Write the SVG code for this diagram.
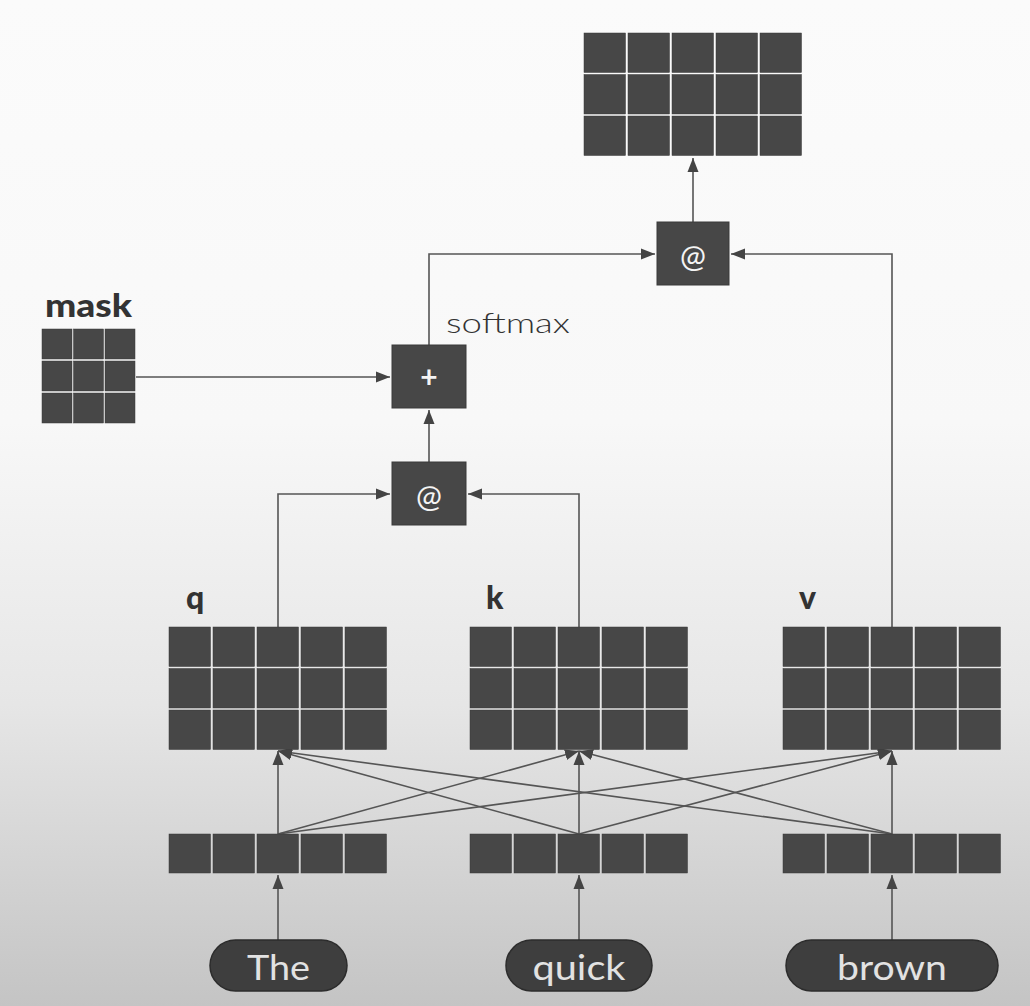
<svg xmlns="http://www.w3.org/2000/svg" xmlns:xlink="http://www.w3.org/1999/xlink" width="1030" height="1006" viewBox="0 0 1030 1006">
<defs>
<linearGradient id="bg" x1="0" y1="0" x2="0" y2="1">
<stop offset="0" stop-color="#fbfbfb"/>
<stop offset="0.42" stop-color="#f8f8f8"/>
<stop offset="0.7" stop-color="#e6e6e6"/>
<stop offset="1" stop-color="#c4c4c4"/>
</linearGradient>
<marker id="ah" markerUnits="userSpaceOnUse" markerWidth="14" markerHeight="12" refX="14" refY="6" orient="auto">
<path d="M0,0.5 L14,6 L0,11.5 Z" fill="#444"/>
</marker>
<g id="grid">
<rect class="cell" x="0" y="0" width="41.5" height="39.5"/><rect class="cell" x="44" y="0" width="41.5" height="39.5"/><rect class="cell" x="88" y="0" width="41.5" height="39.5"/><rect class="cell" x="132" y="0" width="41.5" height="39.5"/><rect class="cell" x="176" y="0" width="41.5" height="39.5"/>
<rect class="cell" x="0" y="41.5" width="41.5" height="39.5"/><rect class="cell" x="44" y="41.5" width="41.5" height="39.5"/><rect class="cell" x="88" y="41.5" width="41.5" height="39.5"/><rect class="cell" x="132" y="41.5" width="41.5" height="39.5"/><rect class="cell" x="176" y="41.5" width="41.5" height="39.5"/>
<rect class="cell" x="0" y="83" width="41.5" height="39.5"/><rect class="cell" x="44" y="83" width="41.5" height="39.5"/><rect class="cell" x="88" y="83" width="41.5" height="39.5"/><rect class="cell" x="132" y="83" width="41.5" height="39.5"/><rect class="cell" x="176" y="83" width="41.5" height="39.5"/>
</g>
<g id="row">
<rect class="cell" x="0" y="0" width="41.5" height="39"/><rect class="cell" x="44" y="0" width="41.5" height="39"/><rect class="cell" x="88" y="0" width="41.5" height="39"/><rect class="cell" x="132" y="0" width="41.5" height="39"/><rect class="cell" x="176" y="0" width="41.5" height="39"/>
</g>
</defs>
<style>
.cell{fill:#474747;stroke:#3a3a3a;stroke-width:0.5}
.op{fill:#474747;stroke:#3a3a3a;stroke-width:1}
.optxt{fill:#f4f4f4;font-family:"Lato","Noto Sans",sans-serif;text-anchor:middle}
.lbl{fill:#333;font-family:"Lato","DejaVu Sans",sans-serif;font-weight:900;font-size:32px}
.conn path{fill:none;stroke:#555;stroke-width:1.6;marker-end:url(#ah)}
.pill{fill:#3e3e3e;stroke:#2c2c2c;stroke-width:1.5}
.pilltxt{fill:#e2e2e2;font-family:"Lato","Noto Sans",sans-serif;font-weight:normal;font-size:35px;text-anchor:middle}
</style>
<rect x="0" y="0" width="1030" height="1006" fill="url(#bg)"/>

<g id="connectors" class="conn">
<path d="M693,222 V158"/>
<path d="M429,345 V254 H655"/>
<path d="M892,627 V254 H731"/>
<path d="M429,462 V410"/>
<path d="M136,377 H390"/>
<path d="M278,627 V494 H390"/>
<path d="M579,627 V494 H468"/>
<path d="M278,834 V751"/>
<path d="M278,834 L579,751"/>
<path d="M278,834 L892,751"/>
<path d="M579,834 L278,751"/>
<path d="M579,834 V751"/>
<path d="M579,834 L892,751"/>
<path d="M892,834 L278,751"/>
<path d="M892,834 L579,751"/>
<path d="M892,834 V751"/>
<path d="M278,940 V875"/>
<path d="M579,940 V875"/>
<path d="M892,940 V875"/>
</g>

<g id="output">
<use xlink:href="#grid" transform="translate(584,33)"/>
</g>

<g id="matmul-top">
<rect class="op" x="657" y="222" width="72" height="63"/>
<text class="optxt" x="693" y="267" font-size="31">@</text>
</g>

<g id="mask">
<text class="lbl" x="45" y="317" font-size="29" textLength="87" lengthAdjust="spacingAndGlyphs">mask</text>
<rect class="cell" x="42" y="329" width="30" height="30"/><rect class="cell" x="73.5" y="329" width="30" height="30"/><rect class="cell" x="105" y="329" width="30" height="30"/>
<rect class="cell" x="42" y="361" width="30" height="30"/><rect class="cell" x="73.5" y="361" width="30" height="30"/><rect class="cell" x="105" y="361" width="30" height="30"/>
<rect class="cell" x="42" y="393" width="30" height="30"/><rect class="cell" x="73.5" y="393" width="30" height="30"/><rect class="cell" x="105" y="393" width="30" height="30"/>
</g>

<g id="softmax-label">
<text x="446" y="333" fill="#333" font-family="Lato, 'Noto Sans', sans-serif" font-weight="300" font-size="27" textLength="124" lengthAdjust="spacingAndGlyphs">softmax</text>
</g>

<g id="add">
<rect class="op" x="392" y="345" width="74" height="63"/>
<text class="optxt" x="429" y="388" font-size="30" font-weight="bold">+</text>
</g>

<g id="matmul-qk">
<rect class="op" x="392" y="462" width="74" height="63"/>
<text class="optxt" x="429" y="507" font-size="31">@</text>
</g>

<g id="q">
<text class="lbl" x="186" y="609">q</text>
<use xlink:href="#grid" transform="translate(169,627)"/>
</g>
<g id="k">
<text class="lbl" x="486" y="609">k</text>
<use xlink:href="#grid" transform="translate(470,627)"/>
</g>
<g id="v">
<text class="lbl" x="799" y="609">v</text>
<use xlink:href="#grid" transform="translate(783,627)"/>
</g>

<g id="emb-the"><use xlink:href="#row" transform="translate(169,834)"/></g>
<g id="emb-quick"><use xlink:href="#row" transform="translate(470,834)"/></g>
<g id="emb-brown"><use xlink:href="#row" transform="translate(783,834)"/></g>

<g id="tok-the">
<rect class="pill" x="210" y="940" width="137" height="51" rx="25.5"/>
<text class="pilltxt" x="278.5" y="980" textLength="63" lengthAdjust="spacingAndGlyphs">The</text>
</g>
<g id="tok-quick">
<rect class="pill" x="506" y="940" width="146" height="51" rx="25.5"/>
<text class="pilltxt" x="579" y="980" textLength="93" lengthAdjust="spacingAndGlyphs">quick</text>
</g>
<g id="tok-brown">
<rect class="pill" x="786" y="940" width="212" height="51" rx="25.5"/>
<text class="pilltxt" x="892" y="980" textLength="110" lengthAdjust="spacingAndGlyphs">brown</text>
</g>
</svg>
